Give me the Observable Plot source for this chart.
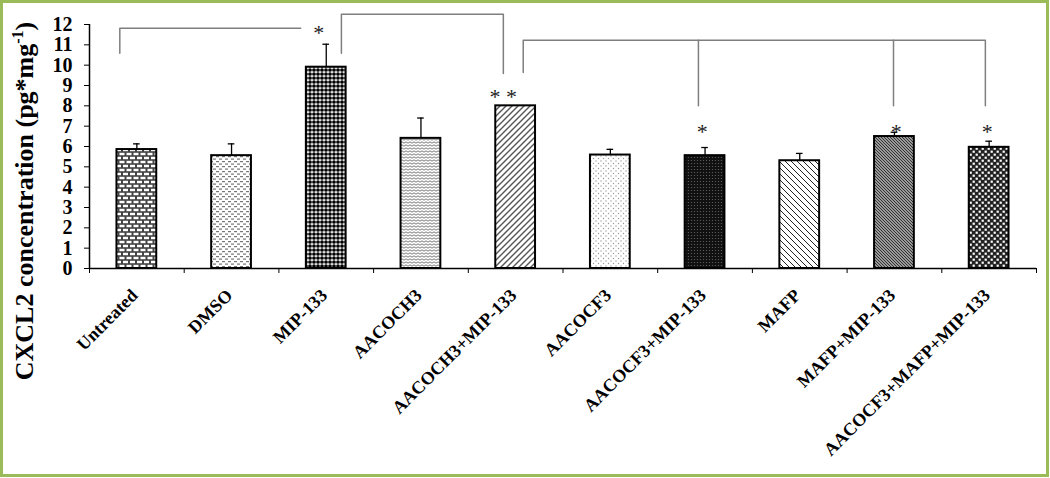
<!DOCTYPE html>
<html><head><meta charset="utf-8">
<script src="https://cdn.jsdelivr.net/npm/d3@7"></script>
<script src="https://cdn.jsdelivr.net/npm/@observablehq/plot@0.6"></script>
<style>body{margin:0;background:#fff} svg{display:block}</style>
</head><body><div id="chart"></div>
<script>
const categories = ["Untreated","DMSO","MIP-133","AACOCH3","AACOCH3+MIP-133","AACOCF3","AACOCF3+MIP-133","MAFP","MAFP+MIP-133","AACOCF3+MAFP+MIP-133"];
const means  = [5.85, 5.55, 9.9, 6.4, 8.0, 5.58, 5.55, 5.3, 6.49, 5.96];
const errors = [0.28, 0.58, 1.13, 1.0, 0, 0.28, 0.4, 0.36, 0.21, 0.3];
const patterns = ["brick","dash","bigdots","zigzag","wideup","sparsedots","darkdots","widedown","densedown","checker"];
const yTicks = [0,1,2,3,4,5,6,7,8,9,10,11,12];
const xTicks = [0,1,2,3,4,5,6,7,8,9,10];
// significance brackets: [category index, position within band (0..1), y value]
const brackets = [
  [[0,0.32,10.58],[0,0.32,11.81],[2,0.23,11.81]],
  [[2,0.66,10.58],[2,0.66,12.5],[4,0.37,12.5],[4,0.37,9.59]],
  [[4,0.58,9.64],[4,0.58,11.22],[9,0.46,11.22],[9,0.46,8.01]],
  [[6,0.43,11.22],[6,0.43,8.01]],
  [[8,0.49,11.22],[8,0.49,8.01]]
];
const starCats = [2, 4, 6, 8, 9];
const starPos  = [0.42, 0.37, 0.47, 0.52, 0.48];
const starY    = [11.86, 8.75, 7.02, 7.02, 7.02];
const starText = ["*", "* *", "*", "*", "*"];

const serif = "'Liberation Serif','Times New Roman',serif";
const rows = categories.map((c, i) => ({c, i, v: means[i], e: errors[i], p: patterns[i]}));
const bracketPts = brackets.flatMap((b, k) => b.map(([i, o, y]) => ({k, x: i + o, y})));
const stars = starCats.map((i, k) => ({x: i + starPos[k], y: starY[k], t: starText[k]}));
const half = 0.21;

const plot = Plot.plot({
  width: 1050, height: 478,
  marginLeft: 89, marginRight: 14, marginTop: 24, marginBottom: 210,
  style: {fontFamily: serif, background: "#fff"},
  x: {domain: [0, 10], axis: null},
  y: {domain: [0, 12], axis: null},
  color: {type: "identity"},
  marks: [
    Plot.rectY(rows, {x1: d => d.i + 0.5 - half, x2: d => d.i + 0.5 + half, y: "v",
      fill: d => `url(#pat-${d.p})`, stroke: "black", strokeWidth: 2}),
    Plot.ruleX(rows.filter(d => d.e > 0), {x: d => d.i + 0.5, y1: "v", y2: d => d.v + d.e, stroke: "black", strokeWidth: 1.3}),
    Plot.ruleY(rows.filter(d => d.e > 0), {y: d => d.v + d.e, x1: d => d.i + 0.5 - 0.035, x2: d => d.i + 0.5 + 0.035, stroke: "black", strokeWidth: 1.3}),
    Plot.line(bracketPts, {x: "x", y: "y", z: "k", stroke: "#7f7f7f", strokeWidth: 1.5}),
    Plot.text(stars, {x: "x", y: "y", text: "t", fontSize: 22, fill: "#222", dy: 6, fontFamily: serif}),
    Plot.ruleY([0], {x1: 0, x2: 10, stroke: "black", strokeWidth: 1.5}),
    Plot.ruleX([0], {y1: 0, y2: 12, stroke: "black", strokeWidth: 1.5}),
    Plot.axisY({ticks: yTicks, tickSize: 5, tickPadding: 12, fontSize: 20, fontWeight: "bold", fontFamily: serif, label: null}),
    Plot.axisX({ticks: xTicks, tickSize: 5, tickFormat: () => "", label: null}),
    Plot.text(rows, {x: d => d.i + 0.5, y: 0, text: "c", rotate: -45, textAnchor: "end", lineAnchor: "bottom", dx: 2, dy: 28,
      fontSize: 18, fontWeight: "bold", fontFamily: serif, fill: "black"})
  ]
});

const svg = d3.select(plot);
const defs = svg.insert("defs", ":first-child");
function pat(id, w, h, build) {
  const p = defs.append("pattern").attr("id", "pat-" + id).attr("patternUnits", "userSpaceOnUse").attr("width", w).attr("height", h);
  build(p);
}
const rect = (p, x, y, w, h, f) => p.append("rect").attr("x", x).attr("y", y).attr("width", w).attr("height", h).attr("fill", f);
const circ = (p, x, y, r, f) => p.append("circle").attr("cx", x).attr("cy", y).attr("r", r).attr("fill", f);
const path = (p, d, s, sw) => p.append("path").attr("d", d).attr("stroke", s).attr("stroke-width", sw).attr("fill", "none");

pat("brick", 7, 8, p => { rect(p,0,0,7,8,"#444"); rect(p,0.5,0.8,5,2.4,"#fff"); rect(p,4,4.8,5,2.4,"#fff"); rect(p,-3,4.8,5,2.4,"#fff"); });
pat("dash", 6, 5, p => { rect(p,0,0,6,5,"#fff"); rect(p,0,1,3,1.2,"#777"); rect(p,3,3.5,3,1.2,"#777"); });
pat("bigdots", 4, 4, p => { rect(p,0,0,4,4,"#fff"); circ(p,2,2,1.85,"#000"); });
pat("zigzag", 4, 3, p => { rect(p,0,0,4,3,"#fff"); path(p,"M0,2.2 L2,0.8 L4,2.2","#777",1); });
pat("wideup", 6, 6, p => { rect(p,0,0,6,6,"#fff"); path(p,"M0,6 L6,0 M-1,1 L1,-1 M5,7 L7,5","#555",1.4); });
pat("sparsedots", 5, 5, p => { rect(p,0,0,5,5,"#fff"); circ(p,1,1,0.7,"#999"); circ(p,3.5,3.5,0.7,"#999"); });
pat("darkdots", 3, 3, p => { rect(p,0,0,3,3,"#111"); circ(p,1.5,1.5,0.6,"#666"); });
pat("widedown", 6, 6, p => { rect(p,0,0,6,6,"#fff"); path(p,"M0,0 L6,6 M-1,5 L1,7 M5,-1 L7,1","#222",1); });
pat("densedown", 3, 3, p => { rect(p,0,0,3,3,"#999"); path(p,"M0,0 L3,3 M-1,2 L1,4 M2,-1 L4,1","#333",1); });
pat("checker", 6, 6, p => { rect(p,0,0,6,6,"#222"); rect(p,0.6,0.6,2.2,2.2,"#fff"); rect(p,3.6,3.6,2.2,2.2,"#fff"); });

// move each category label's rotation onto a wrapping group
svg.selectAll("g[aria-label='text'] text").each(function () {
  if (!categories.includes(this.textContent)) return;
  const t = this.getAttribute("transform");
  const wrap = document.createElementNS("http://www.w3.org/2000/svg", "g");
  wrap.setAttribute("transform", t);
  this.removeAttribute("transform");
  this.parentNode.insertBefore(wrap, this);
  wrap.appendChild(this);
});

// y-axis title with superscript
const title = svg.append("text")
  .attr("transform", "translate(33,201) rotate(-90)")
  .attr("text-anchor", "middle")
  .attr("font-family", serif).attr("font-size", 26).attr("font-weight", "bold").attr("fill", "black");
title.append("tspan").text("CXCL2 concentration (pg*mg");
title.append("tspan").attr("dy", -10).attr("font-size", 16).text("-1");
title.append("tspan").attr("dy", 10).text(")");

// green frame
svg.append("rect").attr("x", 1.5).attr("y", 1.5).attr("width", 1046).attr("height", 474)
  .attr("fill", "none").attr("stroke", "#9bbb59").attr("stroke-width", 3);

document.getElementById("chart").appendChild(plot);
</script>
</body></html>
